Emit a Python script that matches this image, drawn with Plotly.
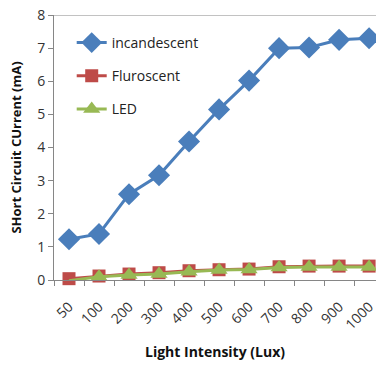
import plotly.graph_objects as go

categories = ["50", "100", "200", "300", "400", "500", "600", "700", "800", "900", "1000"]
incandescent = [1.23, 1.39, 2.59, 3.16, 4.18, 5.15, 6.02, 7.0, 7.02, 7.25, 7.3]
fluroscent = [0.04, 0.12, 0.18, 0.22, 0.28, 0.31, 0.33, 0.4, 0.42, 0.42, 0.42]
led = [-0.02, 0.1, 0.15, 0.18, 0.25, 0.3, 0.32, 0.38, 0.39, 0.39, 0.39]
y_ticks = [0, 1, 2, 3, 4, 5, 6, 7, 8]

font_family = "Open Sans, Noto Sans, sans-serif"

fig = go.Figure()
fig.add_trace(go.Scatter(x=categories, y=incandescent, name="incandescent", mode="lines+markers",
                         line=dict(color="#4A7EBB", width=3),
                         marker=dict(symbol="diamond", size=17, color="#4A7EBB"),
                         legendgroup="a", cliponaxis=False))
fig.add_trace(go.Scatter(x=categories, y=fluroscent, name="Fluroscent", mode="lines+markers",
                         line=dict(color="#BE4B48", width=3),
                         marker=dict(symbol="square", size=13, color="#BE4B48"),
                         legendgroup="b", cliponaxis=False))
fig.add_trace(go.Scatter(x=categories, y=led, name="LED", mode="lines+markers",
                         line=dict(color="#98B954", width=3),
                         marker=dict(symbol="triangle-up", size=15, color="#98B954"),
                         legendgroup="c", cliponaxis=False))

fig.add_shape(type="line", xref="paper", yref="y", x0=0, x1=1, y0=8, y1=8,
              line=dict(color="#868686", width=1))

fig.add_annotation(text="<b>Light Intensity (Lux)</b>", xref="paper", yref="paper",
                   x=0.5, y=-0.268, xanchor="center", yanchor="middle", showarrow=False,
                   font=dict(size=14, color="#111111", family=font_family))

fig.update_layout(
    width=376, height=366,
    margin=dict(l=54, r=0, t=15, b=86, autoexpand=False),
    paper_bgcolor="white", plot_bgcolor="white",
    font=dict(family=font_family, color="#222222"),
    showlegend=True,
    legend=dict(x=0.055, y=0.955, xanchor="left", yanchor="top",
                bgcolor="rgba(0,0,0,0)", font=dict(size=14, color="#222222"),
                tracegroupgap=12, itemwidth=30),
    xaxis=dict(type="category", range=[-0.5, 10.23], tickson="boundaries",
               ticks="outside", ticklen=5, tickcolor="#868686",
               showline=True, linecolor="#868686", linewidth=1,
               showgrid=False, tickangle=-45, ticklabelstandoff=12,
               tickfont=dict(size=14, color="#333333"), automargin=False),
    yaxis=dict(range=[0, 8], tickvals=y_ticks, ticks="outside", ticklen=5,
               tickcolor="#868686", showline=True, linecolor="#868686", linewidth=1,
               showgrid=False, zeroline=False, automargin=False,
               tickfont=dict(size=14, color="#333333"),
               title=dict(text="<b>SHort Circuit CUrrent (mA)</b>", font=dict(size=13, color="#111111"),
                          standoff=12)),
)

fig.write_html("out.html")
